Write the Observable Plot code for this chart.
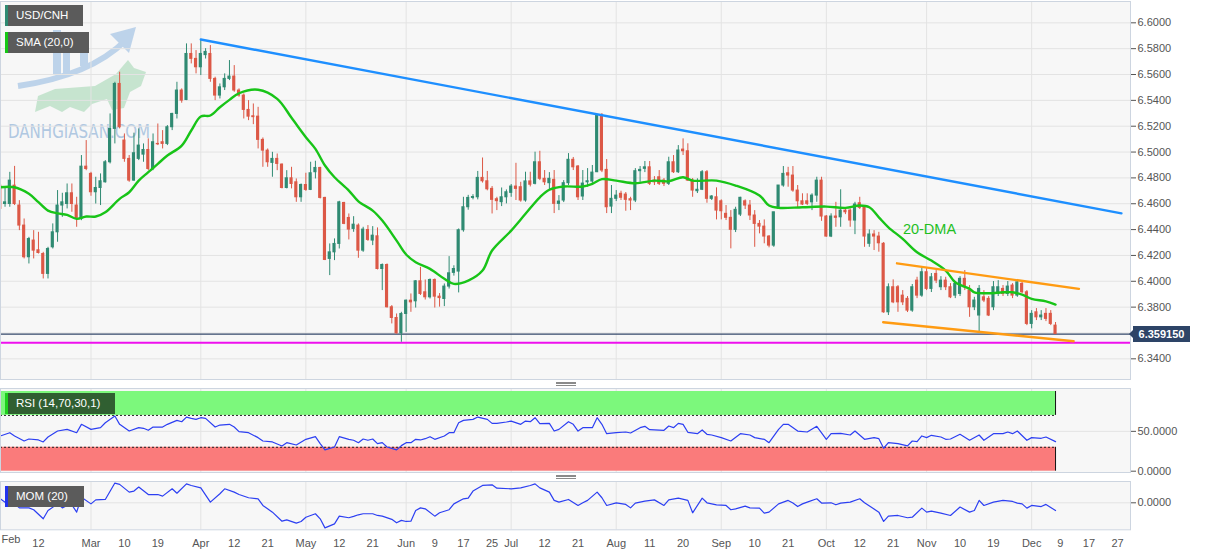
<!DOCTYPE html>
<html>
<head>
<meta charset="utf-8">
<script src="https://cdn.jsdelivr.net/npm/d3@7"></script>
<script src="https://cdn.jsdelivr.net/npm/@observablehq/plot@0.6"></script>
<style>
html,body{margin:0;padding:0;background:#fff;}
#chart{position:relative;width:1207px;height:555px;overflow:hidden;background:#fff;font-family:"Liberation Sans",Arial,sans-serif;}
.layer{position:absolute;left:0;}
.paneBg{position:absolute;left:0;width:1130px;background:#f7f7f7;}
.tag{position:absolute;left:5px;height:21px;line-height:21px;color:#fff;font-size:11.5px;padding-left:8px;box-sizing:border-box;white-space:nowrap;}
.handle{position:absolute;left:556px;width:20px;height:2px;border-top:1px solid #8a8a8a;border-bottom:1px solid #8a8a8a;}
.handle::after{content:"";position:absolute;left:0;right:0;top:0px;border-top:1px solid #8a8a8a;}
#pricebox{position:absolute;left:1133px;width:57px;height:16px;line-height:16px;background:#2d4467;color:#fff;font-size:11px;font-weight:bold;text-align:center;}
#pricebox::before{content:"";position:absolute;left:-4px;top:4px;border-top:4px solid transparent;border-bottom:4px solid transparent;border-right:4px solid #2d4467;}
</style>
</head>
<body>
<div id="chart">
  <div class="paneBg" style="top:1px;height:378px"></div>
  <div class="paneBg" style="top:388px;height:84px"></div>
  <div class="paneBg" style="top:481px;height:48px"></div>
  <svg class="layer" style="top:0" width="260" height="170">
    <g opacity="0.55">
      <rect x="53" y="30" width="8" height="44" fill="#8fb6e0"/>
      <rect x="63" y="40" width="7" height="34" fill="#8fb6e0"/>
      <rect x="80" y="42" width="8" height="24" fill="#8fb6e0"/>
      <path d="M18 86 C60 80 100 66 126 40" stroke="#8fb6e0" stroke-width="6" fill="none"/>
      <path d="M136 27 L110 34 L129 53 Z" fill="#8fb6e0"/>
      <path d="M35 112 L38 96 L55 89 L95 86 L116 74 L128 60 L134 68 L146 72 L141 86 L130 92 L124 108 L112 110 L107 99 L92 104 L84 112 L70 107 L62 112 L50 106 Z" fill="#9fd6b0"/>
    </g>
    <text x="8" y="138" font-size="20" textLength="142" lengthAdjust="spacingAndGlyphs" fill="#a4c0de" opacity="0.85" font-family="DejaVu Sans">DANHGIASAN.COM</text>
  </svg>
  <div id="mainHost" class="layer" style="top:0"></div>
  <div id="rsiHost" class="layer" style="top:384px"></div>
  <div id="momHost" class="layer" style="top:476px"></div>
  <div class="tag" style="top:5px;width:78px;background:#5b5b5b;border-left:3px solid #2f8a72">USD/CNH</div>
  <div class="tag" style="top:32px;width:84px;background:#5b5b5b;border-left:3px solid #16c816">SMA (20,0)</div>
  <div class="tag" style="top:393px;width:110px;background:#305f31;border-left:3px solid #1fd11f">RSI (14,70,30,1)</div>
  <div class="tag" style="top:486px;width:79px;background:#5b5b5b;border-left:3px solid #2233ee">MOM (20)</div>
  <div class="handle" style="top:382px"></div>
  <div class="handle" style="top:475px"></div>
  <div id="pricebox"></div>
</div>
<script>
// ---------- data (USD/CNH daily, 2021; bar index 0 = Feb 1) ----------
const firstBar = 1;
const opens = [6.4740,6.4598,6.4598,6.4740,6.4586,6.4431,6.4186,6.4315,6.4240,6.4211,
6.4057,6.4263,6.4379,6.4586,6.4598,6.4681,6.4586,6.4482,6.4887,6.4831,
6.4689,6.4722,6.4766,6.4921,6.5179,6.5527,6.5089,6.4947,6.4779,6.4947,
6.4980,6.5016,6.4869,6.5063,6.5076,6.5063,6.5192,6.5295,6.5476,6.5403,
6.5759,6.5721,6.5656,6.5750,6.5759,6.5566,6.5437,6.5501,6.5566,6.5584,
6.5476,6.5437,6.5326,6.5277,6.5274,6.5094,6.5011,6.4916,6.4947,6.4903,
6.4722,6.4797,6.4766,6.4650,6.4745,6.4707,6.4844,6.4877,6.4645,6.4173,
6.4224,6.4289,6.4606,6.4490,6.4405,6.4431,6.4237,6.4397,6.4315,6.4348,
6.4095,6.4126,6.3799,6.3716,6.3597,6.3747,6.3850,6.3845,6.4000,6.3915,
6.3876,6.4010,6.3881,6.3863,6.3959,6.4065,6.4075,6.4395,6.4573,6.4645,
6.4650,6.4800,6.4774,6.4715,6.4635,6.4612,6.4650,6.4684,6.4733,6.4728,
6.4625,6.4773,6.4754,6.4921,6.4793,6.4759,6.4785,6.4599,6.4625,6.4759,
6.4940,6.4888,6.4656,6.4766,6.4772,6.4844,6.5283,6.4862,6.4578,6.4638,
6.4677,6.4671,6.4635,6.4625,6.4852,6.4870,6.4882,6.4779,6.4805,6.4779,
6.4754,6.4921,6.4844,6.5019,6.5006,6.4779,6.4697,6.4708,6.4844,6.4638,
6.4650,6.4619,6.4522,6.4491,6.4398,6.4516,6.4619,6.4586,6.4509,6.4444,
6.4423,6.4346,6.4276,6.4573,6.4741,6.4836,6.4818,6.4702,6.4619,6.4619,
6.4611,6.4663,6.4779,6.4501,6.4346,6.4501,6.4495,6.4547,6.4547,6.4470,
6.4604,6.4568,6.4290,6.4362,6.4346,6.4290,6.3760,6.3954,6.3954,6.3889,
6.3864,6.3773,6.4005,6.3889,6.4070,6.3941,6.4057,6.3954,6.4005,6.3954,
6.3889,6.3902,6.4019,6.3928,6.3799,6.3735,6.3876,6.3864,6.3799,6.3902,
6.3941,6.3902,6.3967,6.3889,6.3980,6.3915,6.3670,6.3760,6.3721,6.3748,
6.3748,6.3657];
const highs = [6.4766,6.4727,6.4843,6.4889,6.4624,6.4482,6.4340,6.4392,6.4379,6.4224,
6.4263,6.4444,6.4702,6.4681,6.4753,6.4753,6.4650,6.4973,6.5089,6.4843,
6.4805,6.4831,6.4934,6.5295,6.5540,6.5618,6.5140,6.4973,6.5146,6.5179,
6.5063,6.5102,6.5140,6.5217,6.5166,6.5205,6.5300,6.5540,6.5489,6.5837,
6.5837,6.5785,6.5863,6.5800,6.5824,6.5579,6.5527,6.5605,6.5708,6.5669,
6.5489,6.5450,6.5398,6.5372,6.5346,6.5109,6.5024,6.4998,6.4985,6.4908,
6.4856,6.4882,6.4792,6.4753,6.4836,6.4921,6.4929,6.4882,6.4650,6.4289,
6.4328,6.4619,6.4611,6.4521,6.4500,6.4444,6.4418,6.4431,6.4423,6.4413,
6.4134,6.4134,6.3812,6.3747,6.3760,6.3855,6.3902,6.4005,6.4108,6.4010,
6.4018,6.4018,6.3905,6.3979,6.4191,6.4120,6.4405,6.4650,6.4665,6.4670,
6.4850,6.4954,6.4850,6.4733,6.4650,6.4722,6.4707,6.4749,6.4913,6.4766,
6.4844,6.4844,6.4999,6.5006,6.4857,6.4841,6.4857,6.4663,6.4779,6.4988,
6.4958,6.4896,6.4857,6.4872,6.4896,6.5283,6.5298,6.4942,6.4741,6.4702,
6.4697,6.4687,6.4650,6.4872,6.4888,6.4927,6.4927,6.4810,6.4857,6.4795,
6.4960,6.4973,6.5050,6.5102,6.5064,6.4795,6.4793,6.4857,6.4857,6.4663,
6.4723,6.4630,6.4586,6.4547,6.4573,6.4650,6.4630,6.4625,6.4547,6.4470,
6.4475,6.4354,6.4534,6.4741,6.4888,6.4882,6.4888,6.4741,6.4677,6.4677,
6.4677,6.4805,6.4805,6.4509,6.4522,6.4611,6.4708,6.4570,6.4560,6.4611,
6.4650,6.4586,6.4398,6.4392,6.4379,6.4300,6.3980,6.4011,6.3967,6.3928,
6.3882,6.3975,6.4031,6.4104,6.4098,6.4060,6.4083,6.4036,6.4031,6.3982,
6.3998,6.4036,6.4083,6.3967,6.3876,6.3967,6.3928,6.3882,6.3998,6.4005,
6.3967,6.3998,6.3982,6.4013,6.3998,6.3928,6.3773,6.3789,6.3773,6.3789,
6.3773,6.3681];
const lows = [6.4534,6.4573,6.4573,6.4586,6.4392,6.4173,6.4134,6.4173,6.4211,6.4018,
6.4018,6.4250,6.4302,6.4495,6.4560,6.4534,6.4418,6.4469,6.4856,6.4658,
6.4598,6.4586,6.4760,6.4908,6.5063,6.5179,6.4921,6.4766,6.4774,6.4934,
6.4921,6.4856,6.4856,6.5050,6.5024,6.5050,6.5166,6.5256,6.5378,6.5398,
6.5682,6.5605,6.5592,6.5720,6.5540,6.5398,6.5411,6.5476,6.5553,6.5463,
6.5424,6.5256,6.5243,6.5212,6.5024,6.4882,6.4882,6.4805,6.4856,6.4715,
6.4715,6.4715,6.4611,6.4611,6.4696,6.4702,6.4792,6.4637,6.4160,6.4044,
6.4160,6.4250,6.4438,6.4320,6.4379,6.4178,6.4224,6.4309,6.4276,6.4088,
6.3928,6.3793,6.3670,6.3592,6.3528,6.3605,6.3760,6.3793,6.3890,6.3855,
6.3863,6.3793,6.3800,6.3804,6.3940,6.4040,6.3910,6.4380,6.4550,6.4630,
6.4630,6.4760,6.4700,6.4521,6.4547,6.4578,6.4599,6.4650,6.4625,6.4612,
6.4612,6.4730,6.4746,6.4779,6.4741,6.4702,6.4524,6.4547,6.4609,6.4741,
6.4857,6.4625,6.4625,6.4728,6.4756,6.4841,6.4841,6.4524,6.4524,6.4617,
6.4625,6.4542,6.4547,6.4609,6.4766,6.4841,6.4741,6.4741,6.4741,6.4733,
6.4741,6.4834,6.4834,6.4973,6.4772,6.4650,6.4679,6.4702,6.4604,6.4625,
6.4475,6.4475,6.4470,6.4251,6.4377,6.4501,6.4555,6.4470,6.4263,6.4367,
6.4290,6.4259,6.4263,6.4560,6.4728,6.4728,6.4689,6.4568,6.4586,6.4586,
6.4547,6.4611,6.4464,6.4341,6.4338,6.4418,6.4418,6.4516,6.4418,6.4361,
6.4555,6.4263,6.4263,6.4238,6.4225,6.3752,6.3735,6.3827,6.3760,6.3812,
6.3758,6.3760,6.3866,6.3876,6.3928,6.3913,6.3982,6.3928,6.3928,6.3866,
6.3866,6.3882,6.3928,6.3721,6.3773,6.3605,6.3835,6.3727,6.3773,6.3882,
6.3882,6.3882,6.3866,6.3876,6.3905,6.3657,6.3632,6.3696,6.3696,6.3688,
6.3657,6.3588];
const closes = [6.4560,6.4611,6.4779,6.4598,6.4431,6.4186,6.4327,6.4237,6.4219,6.4057,
6.4250,6.4379,6.4586,6.4611,6.4681,6.4598,6.4482,6.4887,6.4869,6.4689,
6.4722,6.4774,6.4921,6.5179,6.5527,6.5192,6.4947,6.4779,6.4991,6.5050,
6.5016,6.4869,6.5076,6.5060,6.5063,6.5192,6.5295,6.5476,6.5398,6.5759,
6.5721,6.5656,6.5759,6.5775,6.5566,6.5437,6.5501,6.5566,6.5584,6.5476,
6.5437,6.5326,6.5274,6.5270,6.5094,6.5011,6.4921,6.4947,6.4908,6.4722,
6.4797,6.4753,6.4650,6.4745,6.4707,6.4836,6.4877,6.4645,6.4165,6.4224,
6.4289,6.4611,6.4444,6.4400,6.4438,6.4237,6.4400,6.4320,6.4353,6.4095,
6.4126,6.3799,6.3716,6.3597,6.3747,6.3850,6.3837,6.4000,6.3902,6.3876,
6.4010,6.3881,6.3870,6.3959,6.4062,6.4095,6.4395,6.4573,6.4645,6.4652,
6.4800,6.4774,6.4712,6.4630,6.4620,6.4650,6.4689,6.4733,6.4715,6.4625,
6.4773,6.4747,6.4921,6.4793,6.4766,6.4793,6.4599,6.4617,6.4759,6.4940,
6.4882,6.4650,6.4756,6.4774,6.4841,6.5283,6.4857,6.4573,6.4638,6.4663,
6.4646,6.4630,6.4625,6.4852,6.4862,6.4882,6.4754,6.4766,6.4754,6.4754,
6.4921,6.4844,6.5012,6.5006,6.4779,6.4702,6.4708,6.4844,6.4638,6.4656,
6.4547,6.4542,6.4491,6.4398,6.4553,6.4646,6.4586,6.4509,6.4444,6.4423,
6.4346,6.4276,6.4534,6.4741,6.4831,6.4818,6.4702,6.4619,6.4594,6.4599,
6.4663,6.4779,6.4501,6.4346,6.4501,6.4491,6.4547,6.4534,6.4470,6.4594,
6.4568,6.4346,6.4362,6.4346,6.4294,6.3760,6.3954,6.3837,6.3837,6.3837,
6.3773,6.3954,6.3889,6.4070,6.3941,6.4031,6.4005,6.4005,6.3954,6.3876,
6.3980,6.4019,6.3954,6.3799,6.3851,6.3941,6.3851,6.3735,6.3954,6.3954,
6.3902,6.3959,6.3889,6.3992,6.3915,6.3670,6.3748,6.3721,6.3735,6.3709,
6.3670,6.35915];

// SMA(20): [bar, value]
const smaPoints = [[1,6.4728],[4,6.4728],[7,6.4677],[9,6.4612],[11,6.4547],[13,6.4526],[15,6.4514],[17,6.4483],[19,6.4501],[21,6.4501],[23,6.4534],[26,6.4638],[28,6.4689],[30,6.4779],[32,6.4844],[34,6.4909],[36,6.4973],[39,6.5050],[41,6.5167],[43,6.5275],[45,6.5283],[47,6.5347],[49,6.5404],[51,6.5455],[55,6.5482],[59,6.5412],[62,6.5265],[65,6.5115],[67,6.5025],[69,6.4896],[71,6.4805],[74,6.4702],[76,6.4619],[79,6.4547],[81,6.4470],[84,6.4315],[86,6.4207],[88,6.4147],[91,6.4096],[94,6.4019],[96,6.3980],[99,6.4005],[102,6.4083],[104,6.4238],[108,6.4392],[111,6.4522],[114,6.4650],[116,6.4708],[119,6.4733],[123,6.4733],[125,6.4754],[127,6.4790],[130,6.4779],[134,6.4759],[138,6.4779],[141,6.4774],[144,6.4805],[146,6.4779],[151,6.4779],[155,6.4741],[160,6.4664],[162,6.4586],[164,6.4568],[169,6.4573],[174,6.4578],[178,6.4568],[181,6.4586],[183,6.4573],[185,6.4495],[187,6.4418],[190,6.4328],[193,6.4224],[196,6.4160],[199,6.4083],[201,6.3992],[204,6.3941],[205,6.3915],[208,6.3907],[211,6.3915],[213,6.3915],[215,6.3897],[217,6.3864],[220,6.3845],[222,6.3820]];

// RSI(14): [bar, value]
const rsiPoints = [[1,44.2],[3,48.3],[4,44.2],[6,37.9],[7,40.4],[9,39.2],[10,36.7],[11,42.9],[13,50.4],[15,52.5],[17,48.3],[18,58.8],[20,52.5],[22,54.6],[23,60.8],[25,69.2],[26,58.8],[28,50.4],[30,54.6],[31,53.8],[32,51.3],[33,55.4],[35,55.4],[36,58.8],[38,63.8],[39,62.1],[40,67.9],[41,66.3],[42,65.0],[43,67.1],[44,66.3],[46,55.4],[47,57.9],[49,58.8],[50,55.4],[51,49.6],[53,48.3],[55,42.1],[56,37.9],[58,36.7],[60,31.7],[61,35.8],[63,32.9],[65,40.0],[67,43.3],[68,34.6],[69,26.7],[71,30.4],[72,43.3],[74,40.0],[75,38.8],[76,35.8],[77,40.4],[78,38.8],[79,40.4],[80,34.6],[81,35.8],[82,30.4],[84,26.7],[85,32.1],[86,35.8],[87,35.8],[88,40.0],[89,39.2],[90,40.8],[91,43.3],[92,40.0],[94,44.2],[95,48.3],[96,48.3],[97,60.8],[98,63.8],[100,65.0],[101,67.9],[103,65.0],[104,60.0],[105,60.0],[107,61.7],[108,62.9],[110,58.8],[111,62.9],[112,62.1],[113,67.1],[114,59.6],[116,60.0],[117,50.4],[118,52.5],[120,62.1],[121,58.8],[122,50.4],[123,54.6],[125,54.6],[126,67.1],[127,58.8],[128,47.1],[130,48.3],[132,49.2],[133,47.9],[135,54.6],[136,56.3],[137,52.1],[140,51.3],[141,56.7],[142,54.6],[143,60.0],[144,58.8],[145,48.8],[147,47.1],[148,51.7],[149,46.3],[150,45.4],[152,42.1],[154,37.9],[156,47.1],[158,45.4],[159,42.1],[161,40.0],[162,35.8],[164,52.5],[165,58.8],[166,58.8],[168,50.4],[170,49.2],[172,56.3],[174,40.0],[175,47.1],[177,47.5],[179,45.4],[180,50.4],[182,40.0],[184,42.1],[185,40.8],[186,28.8],[187,35.8],[189,34.6],[191,31.7],[192,37.9],[193,37.1],[194,44.2],[195,42.1],[196,45.0],[198,42.9],[199,40.0],[200,40.4],[202,46.3],[204,38.8],[206,45.4],[207,38.8],[209,47.1],[211,47.1],[212,49.2],[213,47.1],[214,50.4],[216,38.8],[217,42.1],[219,41.3],[220,42.9],[222,37.1]];

// Momentum(20): [bar, value]
const momPoints = [[1,0.015],[2,0.0025],[4,-0.004],[5,-0.019],[7,-0.019],[8,-0.026],[10,-0.060],[11,-0.029],[13,-0.004],[14,-0.019],[15,-0.010],[16,-0.0075],[17,-0.035],[18,0.021],[20,-0.004],[21,0.011],[23,0.0125],[25,0.074],[26,0.069],[28,0.040],[29,0.044],[30,0.059],[32,0.031],[34,0.031],[35,0.025],[37,0.0525],[38,0.036],[40,0.071],[41,0.065],[43,0.056],[45,0.0025],[47,0.034],[48,0.0525],[50,0.040],[51,0.031],[53,0.019],[55,0.015],[56,-0.010],[58,-0.035],[60,-0.069],[61,-0.064],[63,-0.076],[64,-0.070],[65,-0.054],[67,-0.041],[68,-0.060],[69,-0.094],[71,-0.079],[72,-0.050],[74,-0.056],[75,-0.051],[76,-0.045],[77,-0.041],[79,-0.041],[80,-0.0475],[81,-0.050],[83,-0.062],[84,-0.075],[85,-0.066],[86,-0.070],[87,-0.069],[88,-0.029],[89,-0.019],[90,-0.0225],[92,-0.050],[93,-0.0375],[95,-0.026],[96,-0.004],[98,0.015],[99,0.0175],[100,0.044],[102,0.065],[104,0.0675],[105,0.055],[108,0.0525],[110,0.056],[112,0.065],[113,0.071],[114,0.056],[116,0.040],[117,0.009],[118,0.0025],[120,0.0125],[122,-0.010],[123,0],[124,0.009],[126,0.040],[127,0.019],[128,-0.010],[130,0],[132,-0.006],[133,-0.019],[134,-0.001],[136,0.006],[138,0.011],[140,-0.010],[141,0.011],[143,0.0175],[145,0.009],[146,-0.0375],[148,0.0175],[149,0],[151,-0.0075],[153,-0.010],[154,-0.026],[155,-0.0225],[157,-0.0125],[158,-0.019],[160,-0.020],[161,-0.039],[162,-0.035],[164,-0.004],[166,0.009],[167,-0.001],[168,-0.014],[169,-0.004],[170,0.0025],[172,0.015],[173,-0.001],[175,0],[176,-0.0075],[177,-0.001],[179,0.0025],[181,0.015],[182,0],[185,-0.035],[186,-0.070],[187,-0.050],[189,-0.0475],[191,-0.056],[192,-0.054],[194,-0.020],[195,-0.035],[196,-0.031],[198,-0.039],[200,-0.0475],[202,-0.016],[204,-0.035],[205,-0.029],[206,0.009],[207,-0.010],[209,0.0025],[211,0.009],[213,0.005],[214,-0.001],[215,-0.004],[216,-0.020],[217,-0.010],[219,-0.014],[220,-0.006],[222,-0.029]];

// drawn annotations (bar, price)
const resistanceBars = [43, 235.8], resistancePrices = [6.5871, 6.4526];
const channelTopBars = [188.8, 226.9], channelTopPrices = [6.4139, 6.3941];
const channelLowBars = [185.9, 225.8], channelLowPrices = [6.3683, 6.3536];
const supportLevel = 6.3525;
const dmaNote = {bar: 195.6, price: 6.4400, text: "20-DMA"};

// axes
const priceGrid = [6.34,6.36,6.38,6.40,6.42,6.44,6.46,6.48,6.50,6.52,6.54,6.56,6.58,6.60];
const priceLabels = [6.34,6.38,6.40,6.42,6.44,6.46,6.48,6.50,6.52,6.54,6.56,6.58,6.60]; // 6.36 hidden behind the price tag
const rsiTicks = [0, 50];
const momTicks = [0];
const monthBars = [20,43,65,86,108,130,152,174,195,217];
const dateBars = [9,20,27,34,43,50,57,65,72,79,86,92,98,104,108,115,122,130,137,144,152,159,166,174,181,188,195,202,209,217,223,229,235];
const dateLabels = ["12","Mar","10","19","Apr","12","21","May","12","21","Jun","9","17","25","Jul","12","21","Aug","11","20","Sep","10","21","Oct","12","21","Nov","10","19","Dec","9","17","27"];
const firstLabel = "Feb";

// ---------- rendering ----------
const UP = "#2f8a72", DOWN = "#dc5846", GRID = "#e3e3e3", BORDER = "#cdd5e0";
const FONT = "'Liberation Sans', Arial, sans-serif";
const xDomain = [1.05, 237.7];
const lastBar = firstBar + closes.length - 1;
const lastClose = closes[closes.length - 1];
const bars = opens.map((o, k) => {
  const i = firstBar + k, c = closes[k];
  return {i, o, h: highs[k], l: lows[k], c, col: c >= o ? UP : DOWN, x1: i - 0.33, x2: i + 0.33};
});
const pairs = (xs, ys) => xs.map((x, k) => ({x, y: ys[k]}));
const style = {background: "transparent", fontFamily: FONT, fontSize: "11px", color: "#555", overflow: "visible"};
const f4 = d => d.toFixed(4);

const main = Plot.plot({
  width: 1207, height: 380, marginTop: 1, marginBottom: 1, marginLeft: 0, marginRight: 77,
  style,
  x: {domain: xDomain, axis: null},
  y: {domain: [6.3240, 6.6165], axis: "right", ticks: priceLabels, tickFormat: f4, tickSize: 5, tickPadding: 2, label: null},
  color: {type: "identity"},
  marks: [
    Plot.ruleY(priceGrid, {stroke: GRID}),
    Plot.ruleX(monthBars, {stroke: GRID}),
    Plot.ruleY([supportLevel], {stroke: "#ee10ee", strokeWidth: 2}),
    Plot.ruleY([lastClose], {stroke: "#34496b", strokeWidth: 1.3}),
    Plot.ruleX(bars, {x: "i", y1: "l", y2: "h", stroke: "col", strokeWidth: 1, clip: true}),
    Plot.rect(bars, {x1: "x1", x2: "x2", y1: "o", y2: "c", fill: "col", insetTop: -0.5, insetBottom: -0.5, clip: true}),
    Plot.line(smaPoints, {x: d => d[0], y: d => d[1], stroke: "#18c418", strokeWidth: 2.4, curve: "catmull-rom", clip: true}),
    Plot.line(pairs(resistanceBars, resistancePrices), {x: "x", y: "y", stroke: "#1e8fff", strokeWidth: 2.4}),
    Plot.line(pairs(channelTopBars, channelTopPrices), {x: "x", y: "y", stroke: "#ff9b12", strokeWidth: 2.4}),
    Plot.line(pairs(channelLowBars, channelLowPrices), {x: "x", y: "y", stroke: "#ff9b12", strokeWidth: 2.4}),
    Plot.text([dmaNote], {x: "bar", y: "price", text: "text", fill: "#1fbf1f", fontSize: 14.5}),
    Plot.frame({stroke: BORDER})
  ]
});
document.getElementById("mainHost").appendChild(main);

const rsiBands = [{lo: 70, hi: 100, fill: "#7cf87c"}, {lo: 0, hi: 30, fill: "#fa7b7b"}];
const rsiPlot = Plot.plot({
  width: 1207, height: 90, marginTop: 4, marginBottom: 2, marginLeft: 0, marginRight: 77,
  style,
  x: {domain: xDomain, axis: null},
  y: {domain: [-1.63, 103.76], axis: "right", ticks: rsiTicks, tickFormat: f4, tickSize: 5, tickPadding: 2, label: null},
  color: {type: "identity"},
  marks: [
    Plot.ruleY([50], {stroke: GRID}),
    Plot.ruleX(monthBars, {stroke: GRID}),
    Plot.rect(rsiBands, {x1: () => xDomain[0], x2: () => lastBar, y1: "lo", y2: "hi", fill: "fill"}),
    Plot.ruleY([70, 30], {x1: () => xDomain[0], x2: () => lastBar, stroke: "#222", strokeDasharray: "2,2"}),
    Plot.ruleX(rsiBands, {x: () => lastBar, y1: "lo", y2: "hi", stroke: "#111"}),
    Plot.ruleX(rsiBands, {x: () => xDomain[0], y1: "lo", y2: "hi", stroke: "#111"}),
    Plot.line(rsiPoints, {x: d => d[0], y: d => d[1], stroke: "#2c3ff2", strokeWidth: 1.2}),
    Plot.frame({stroke: BORDER})
  ]
});
document.getElementById("rsiHost").appendChild(rsiPlot);

const momPlot = Plot.plot({
  width: 1207, height: 79, marginTop: 5, marginBottom: 25.7, marginLeft: 0, marginRight: 77,
  style,
  x: {domain: xDomain, axis: "bottom", ticks: dateBars, tickFormat: d => dateLabels[dateBars.indexOf(d)] ?? "", tickSize: 0, tickPadding: 9, label: null},
  y: {domain: [-0.10125, 0.0799], axis: "right", ticks: momTicks, tickFormat: f4, tickSize: 5, tickPadding: 2, label: null},
  marks: [
    Plot.ruleY([0], {stroke: GRID}),
    Plot.ruleX(monthBars, {stroke: GRID}),
    Plot.line(momPoints, {x: d => d[0], y: d => d[1], stroke: "#2c3ff2", strokeWidth: 1.2}),
    Plot.frame({stroke: BORDER}),
    Plot.text([firstLabel], {frameAnchor: "bottom-left", textAnchor: "start", dx: 1, dy: 12.7, fill: "#555", fontSize: 11})
  ]
});
document.getElementById("momHost").appendChild(momPlot);

const pb = document.getElementById("pricebox");
pb.textContent = lastClose.toFixed(6);
pb.style.top = (main.scale("y").apply(lastClose) - 8) + "px";
</script>
</body>
</html>
